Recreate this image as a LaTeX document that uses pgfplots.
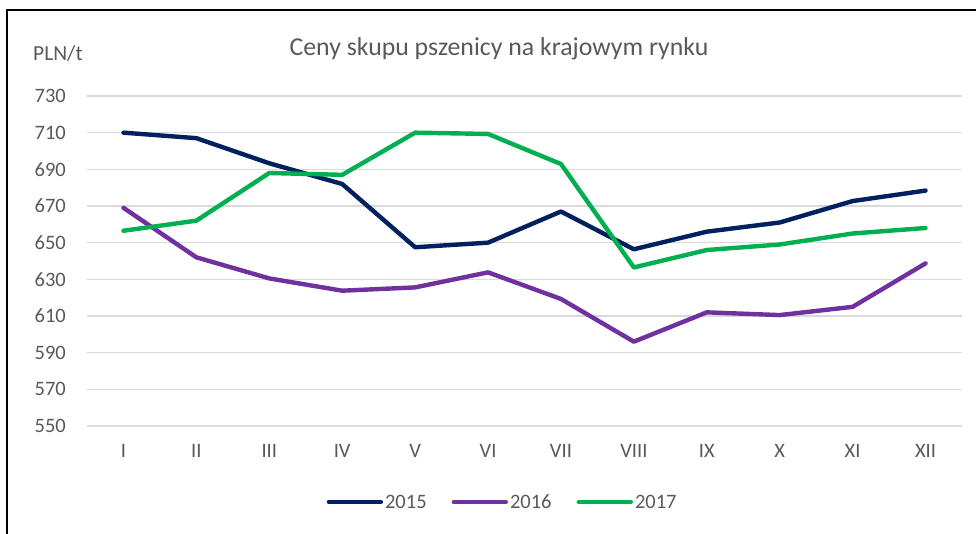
\documentclass[border=0pt]{standalone}
\usepackage{pgfplots}
\pgfplotsset{compat=1.18}
\usepackage{fontspec}
\setmainfont{Carlito}
\definecolor{c15}{HTML}{002060}
\definecolor{c16}{HTML}{7030A0}
\definecolor{c17}{HTML}{00B050}
\definecolor{grd}{HTML}{D9D9D9}
\definecolor{txt}{HTML}{595959}
\begin{document}
\begin{tikzpicture}
\useasboundingbox (0pt,0pt) rectangle (976pt,533pt);
\draw[black, line width=1.8pt] (7pt,-2pt) -- (7pt,523pt) -- (980pt,523pt);
\node[anchor=center, text=txt, font=\fontsize{25.8}{30}\selectfont, inner sep=0pt] at (499pt,484pt) {Ceny skupu pszenicy na krajowym rynku};
\node[anchor=west, text=txt, font=\fontsize{21.5}{25}\selectfont, inner sep=0pt] at (33pt,480pt) {PLN/t};
\begin{axis}[
  at={(87pt,107pt)}, anchor=south west,
  scale only axis, width=875pt, height=330pt,
  xmin=-0.5, xmax=11.5, ymin=550, ymax=730,
  xtick={0,...,11},
  xticklabels={I,II,III,IV,V,VI,VII,VIII,IX,X,XI,XII},
  ytick={550,570,...,730},
  ymajorgrids, grid style={grd, line width=1.5pt},
  axis line style={draw=none},
  major tick style={draw=none},
  /pgf/number format/assume math mode=true,
  ticklabel style={text=txt, font=\fontsize{20.5}{24}\selectfont, inner sep=0pt},
  yticklabel style={anchor=east, xshift=-21pt},
  xticklabel style={anchor=north, yshift=-18pt},
  legend columns=3,
  legend style={at={(0.475,-0.230)}, anchor=center, draw=none, fill=none,
    font=\fontsize{20.5}{24}\selectfont, text=txt,
    /tikz/every even column/.append style={column sep=23pt},
    cells={anchor=west, inner sep=1pt, text height=14pt, text depth=1pt}},
  legend image code/.code={\draw[#1, line cap=round] (0pt,0pt) -- (52pt,0pt);},
  every axis plot/.append style={line width=4.4pt, line join=round, line cap=round},
]
\addplot[c15] coordinates {(0,710) (1,707) (2,693.3) (3,682) (4,647.5) (5,650) (6,667) (7,646.4) (8,656) (9,661) (10,672.7) (11,678.4)};
\addplot[c16] coordinates {(0,669) (1,642) (2,630.5) (3,623.8) (4,625.6) (5,633.8) (6,619.3) (7,596) (8,612) (9,610.5) (10,615) (11,638.7)};
\addplot[c17] coordinates {(0,656.5) (1,662) (2,688) (3,687) (4,710) (5,709.3) (6,692.9) (7,636.5) (8,646) (9,649) (10,655) (11,658)};
\legend{2015,2016,2017}
\end{axis}
\end{tikzpicture}
\end{document}
